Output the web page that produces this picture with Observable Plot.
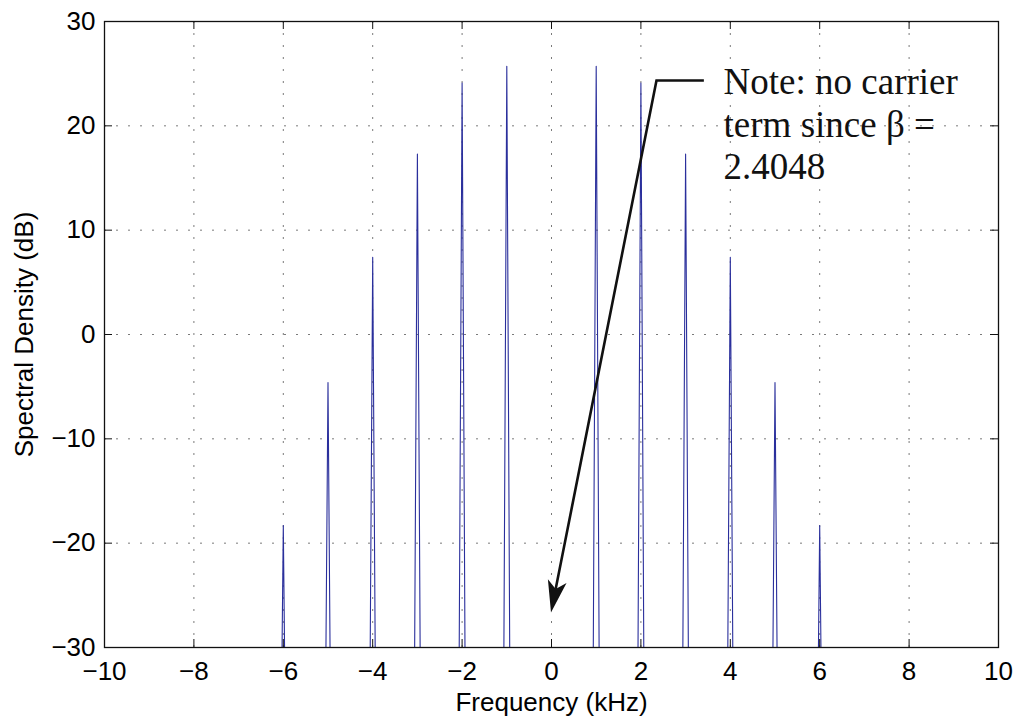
<!DOCTYPE html>
<html>
<head>
<meta charset="utf-8">
<script src="https://cdn.jsdelivr.net/npm/d3@7"></script>
<script src="https://cdn.jsdelivr.net/npm/@observablehq/plot@0.6"></script>
<style>
  html, body { margin: 0; padding: 0; background: #ffffff; }
</style>
</head>
<body>
<div id="chart"></div>
<script>
// ---- Data ----
// Spectrum samples (kHz, dB); lines drop to an off-scale floor between components
const spectrumKHz = [-10,
  -6.1, -6, -5.9,  -5.1, -5, -4.9,  -4.1, -4, -3.9,  -3.1, -3, -2.9,
  -2.1, -2, -1.9,  -1.1, -1, -0.9,
   0.9,  1,  1.1,   1.9,  2,  2.1,   2.9,  3,  3.1,   3.9,  4,  4.1,
   4.9,  5,  5.1,   5.9,  6,  6.1,
  10];
const spectrumDb = [-60,
  -60, -18.3, -60,  -60, -4.6, -60,  -60, 7.4, -60,  -60, 17.3, -60,
  -60, 24.1, -60,   -60, 25.7, -60,
  -60, 25.7, -60,   -60, 24.1, -60,  -60, 17.3, -60,  -60, 7.4, -60,
  -60, -4.6, -60,   -60, -18.3, -60,
  -60];

const xTicks = [-10, -8, -6, -4, -2, 0, 2, 4, 6, 8, 10];
const yTicks = [-30, -20, -10, 0, 10, 20, 30];

const xLabel = "Frequency (kHz)";
const yLabel = "Spectral Density (dB)";
const noteLines = ["Note: no carrier", "term since β =", "2.4048"];
const noteAt = {x: 3.85, y: 25.95};
// annotation arrow path (kHz, dB): start of leader, elbow, tip
const arrowX = [3.42, 2.36, 0.0];
const arrowY = [24.3, 24.3, -26.7];

// ---- Layout ----
const W = 1017, H = 722;
const mL = 104, mR = 19, mT = 21, mB = 75;
const frameW = W - mL - mR, frameH = H - mT - mB;
const tickLen = 8;

const spectrum = spectrumKHz.map((f, i) => ({f, db: spectrumDb[i]}));

function arrowMark(index, scales) {
  const x = scales.x, y = scales.y;
  const px = arrowX.map(v => x(v)), py = arrowY.map(v => y(v));
  const tx = px[2], ty = py[2], ex = px[1], ey = py[1];
  const d = Math.hypot(tx - ex, ty - ey);
  const ux = (tx - ex) / d, uy = (ty - ey) / d, nx = -uy, ny = ux;
  const L = 32, N = 24, w = 9.5;
  const g = d3.create("svg:g");
  g.append("path")
    .attr("d", `M${px[0]},${py[0]}L${ex},${ey}L${tx - N * ux},${ty - N * uy}`)
    .attr("fill", "none").attr("stroke", "#111").attr("stroke-width", 2.6)
    .attr("stroke-linejoin", "miter");
  const pts = [[tx, ty], [tx - L * ux + w * nx, ty - L * uy + w * ny], [tx - N * ux, ty - N * uy], [tx - L * ux - w * nx, ty - L * uy - w * ny]];
  g.append("polygon").attr("points", pts.map(p => p.join(",")).join(" ")).attr("fill", "#111");
  return g.node();
}

const gridStyle = {stroke: "#7a7a7a", strokeWidth: 1, strokeDasharray: "2,10"};

const chart = Plot.plot({
  width: W, height: H,
  marginLeft: mL, marginRight: mR, marginTop: mT, marginBottom: mB,
  style: {fontFamily: '"Liberation Sans", Arial, Helvetica, sans-serif', fontSize: "26px", background: "#ffffff", color: "#000"},
  x: {domain: [-10, 10], label: null},
  y: {domain: [-30, 30], label: null},
  marks: [
    Plot.ruleX(xTicks.slice(1, -1), gridStyle),
    Plot.ruleY(yTicks.slice(1, -1), gridStyle),
    Plot.line(spectrum, {x: "f", y: "db", stroke: "#2a2f9c", strokeWidth: 1.1, clip: true}),
    // inward ticks on all four sides
    Plot.ruleX(xTicks, {insetTop: frameH - tickLen, stroke: "#111"}),
    Plot.ruleX(xTicks, {insetBottom: frameH - tickLen, stroke: "#111"}),
    Plot.ruleY(yTicks, {insetRight: frameW - tickLen, stroke: "#111"}),
    Plot.ruleY(yTicks, {insetLeft: frameW - tickLen, stroke: "#111"}),
    Plot.frame({stroke: "#111", strokeWidth: 1.3}),
    Plot.axisX(xTicks, {tickSize: 0, tickPadding: 14, fontSize: 26, label: null}),
    Plot.axisY(yTicks, {tickSize: 0, tickPadding: 9, fontSize: 26, label: null}),
    Plot.text([xLabel], {frameAnchor: "bottom", lineAnchor: "middle", textAnchor: "middle", dy: 55, fontSize: 26}),
    Plot.text([yLabel], {frameAnchor: "left", lineAnchor: "middle", textAnchor: "middle", dx: -80, rotate: -90, fontSize: 26}),
    arrowMark,
    Plot.text([noteLines.join("\n")], {x: () => noteAt.x, y: () => noteAt.y, textAnchor: "start", lineAnchor: "top",
      fontFamily: '"Liberation Serif", "Times New Roman", serif', fontSize: 37, lineHeight: 1.15, fill: "#111"})
  ]
});
document.getElementById("chart").appendChild(chart);
</script>
</body>
</html>
